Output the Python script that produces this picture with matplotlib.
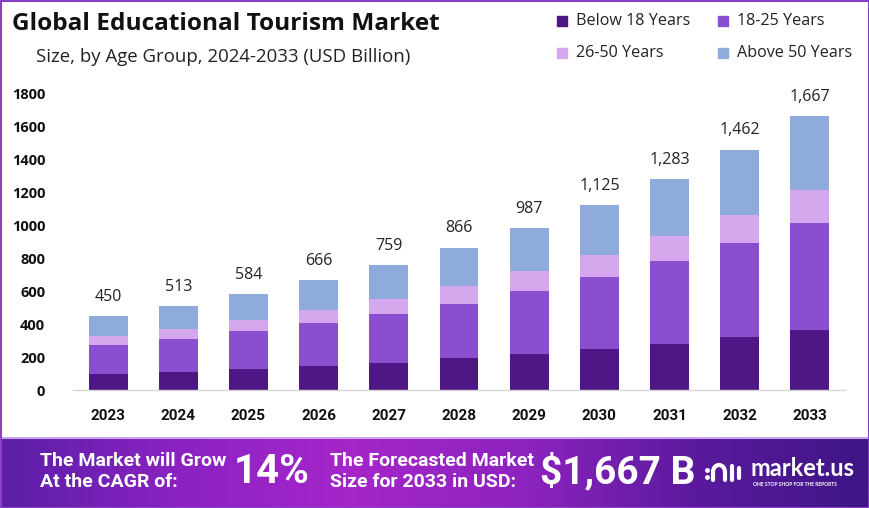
import matplotlib
matplotlib.use("Agg")
import matplotlib.pyplot as plt
import numpy as np
from matplotlib.colors import LinearSegmentedColormap
from matplotlib.patches import Rectangle, Arc

years = ["2023", "2024", "2025", "2026", "2027", "2028", "2029", "2030", "2031", "2032", "2033"]
below_18 = [97, 109, 130, 148, 166, 193, 217, 249, 282, 320, 365]
age_18_25 = [175, 203, 227, 259, 298, 332, 383, 438, 502, 572, 652]
age_26_50 = [56, 61, 69, 79, 87, 105, 122, 136, 150, 174, 197]
above_50 = [122, 140, 158, 180, 208, 236, 265, 302, 349, 396, 453]
totals = [450, 513, 584, 666, 759, 866, 987, 1125, 1283, 1462, 1667]
total_labels = ["450", "513", "584", "666", "759", "866", "987", "1,125", "1,283", "1,462", "1,667"]
series_names = ["Below 18 Years", "18-25 Years", "26-50 Years", "Above 50 Years"]
colors = ["#4E1785", "#8B4ECE", "#D5A8EE", "#8EABDC"]
yticks = [0, 200, 400, 600, 800, 1000, 1200, 1400, 1600, 1800]

W, H = 870, 508
fig = plt.figure(figsize=(W / 100, H / 100), dpi=100)
fig.patch.set_facecolor("white")

ax = fig.add_axes([73 / W, (H - 390) / H, (845 - 73) / W, (390 - 90.7) / H])
x = np.arange(len(years))
bottom = np.zeros(len(years))
series = [below_18, age_18_25, age_26_50, above_50]
for vals, c, name in zip(series, colors, series_names):
    ax.bar(x, vals, width=0.555, bottom=bottom, color=c, label=name, zorder=2)
    bottom += np.array(vals)

for xi, t, lab in zip(x, totals, total_labels):
    ax.annotate(lab, (xi, t), xytext=(0, 8), textcoords="offset points",
                ha="center", va="bottom", fontsize=11.5, color="#222222",
                family="Open Sans")

ax.set_xlim(-0.5, 10.5)
ax.set_ylim(0, 1820)
ax.set_yticks(yticks)
ax.set_yticklabels([str(v) for v in yticks], fontsize=10.5, fontweight="bold",
                   family="Open Sans", color="#111111")
ax.set_xticks(x)
ax.set_xticklabels(years, fontsize=11, fontweight="bold", family="Roboto", color="#111111")
ax.tick_params(axis="y", length=0, pad=20)
ax.tick_params(axis="x", length=0, pad=14)
for s in ["top", "right", "left"]:
    ax.spines[s].set_visible(False)
ax.spines["bottom"].set_color("#D8D8D8")
ax.spines["bottom"].set_linewidth(1)

# Titles
fig.text(12 / W, 1 - 24 / H, "Global Educational Tourism Market", fontsize=17.6,
         fontweight="bold", family="Open Sans", color="#111111", va="center", ha="left")
fig.text(36 / W, 1 - 57 / H, "Size, by Age Group, 2024-2033 (USD Billion)", fontsize=13.4,
         family="Open Sans", color="#222222", va="center", ha="left")

# Legend
leg_pos = [(562, 21), (723, 21), (562, 53), (723, 53)]
for (lx, ly), c, name in zip(leg_pos, colors, series_names):
    fig.patches.append(Rectangle(((lx - 5) / W, 1 - (ly + 5) / H), 10 / W, 10 / H,
                                 transform=fig.transFigure, color=c))
    fig.text((lx + 14) / W, 1 - ly / H, name, fontsize=11.6, family="Open Sans",
             color="#222222", va="center", ha="left")

# Border frame
fig.patches.append(Rectangle((0.5 / W, 0.5 / H), (W - 1.5) / W, (H - 1) / H,
                             transform=fig.transFigure, fill=False,
                             edgecolor="#8A3FC8", linewidth=1.5))

# Banner
bax = fig.add_axes([0, 0, 1, 71 / H])
cmap = LinearSegmentedColormap.from_list("ban", ["#5A1FA6", "#8A22C2", "#A526C9", "#8E23C0", "#5B1A9E", "#3E1685"])
grad = np.linspace(0, 1, 400).reshape(1, -1)
bax.imshow(grad, aspect="auto", cmap=cmap, extent=[0, W, 0, 71])
bax.set_xlim(0, W)
bax.set_ylim(0, 71)
bax.axis("off")
bax.plot([0, W], [70.5, 70.5], color="#C9A3E8", lw=1.5)

bf = dict(fontweight="bold", family="Roboto", color="white", va="center", ha="left")
bax.text(40, 47, "The Market will Grow", fontsize=14, **bf)
bax.text(40, 26, "At the CAGR of:", fontsize=14, **bf)
bax.text(234, 36, "14%", fontsize=29, **bf)
bax.text(330, 47, "The Forecasted Market", fontsize=14, **bf)
bax.text(330, 26, "Size for 2033 in USD:", fontsize=14, **bf)
bax.text(540, 36, "$1,667 B", fontsize=28, **bf)

# Logo icon
bax.add_patch(Arc((719, 36), 12, 14, theta1=0, theta2=180, color="white", lw=3))
bax.plot([713, 713], [36, 28], color="white", lw=3, solid_capstyle="round")
bax.plot([725, 725], [36, 28], color="white", lw=3, solid_capstyle="round")
bax.plot([732, 732], [42, 28], color="white", lw=3, solid_capstyle="round")
bax.plot([739, 739], [40, 30], color="white", lw=3, solid_capstyle="round")
bax.plot([707], [38], marker="o", ms=2.5, color="white")
bax.plot([707], [31], marker="o", ms=2.5, color="white")
bax.text(751, 39, "market.us", fontsize=17, fontweight="bold", family="Lato",
         color="white", va="center", ha="left")
bax.text(753, 24, "ONE STOP SHOP FOR THE REPORTS", fontsize=3.6, fontweight="bold",
         family="Lato", color="white", va="center", ha="left")

fig.savefig("out.png", dpi=100, facecolor=fig.get_facecolor())
